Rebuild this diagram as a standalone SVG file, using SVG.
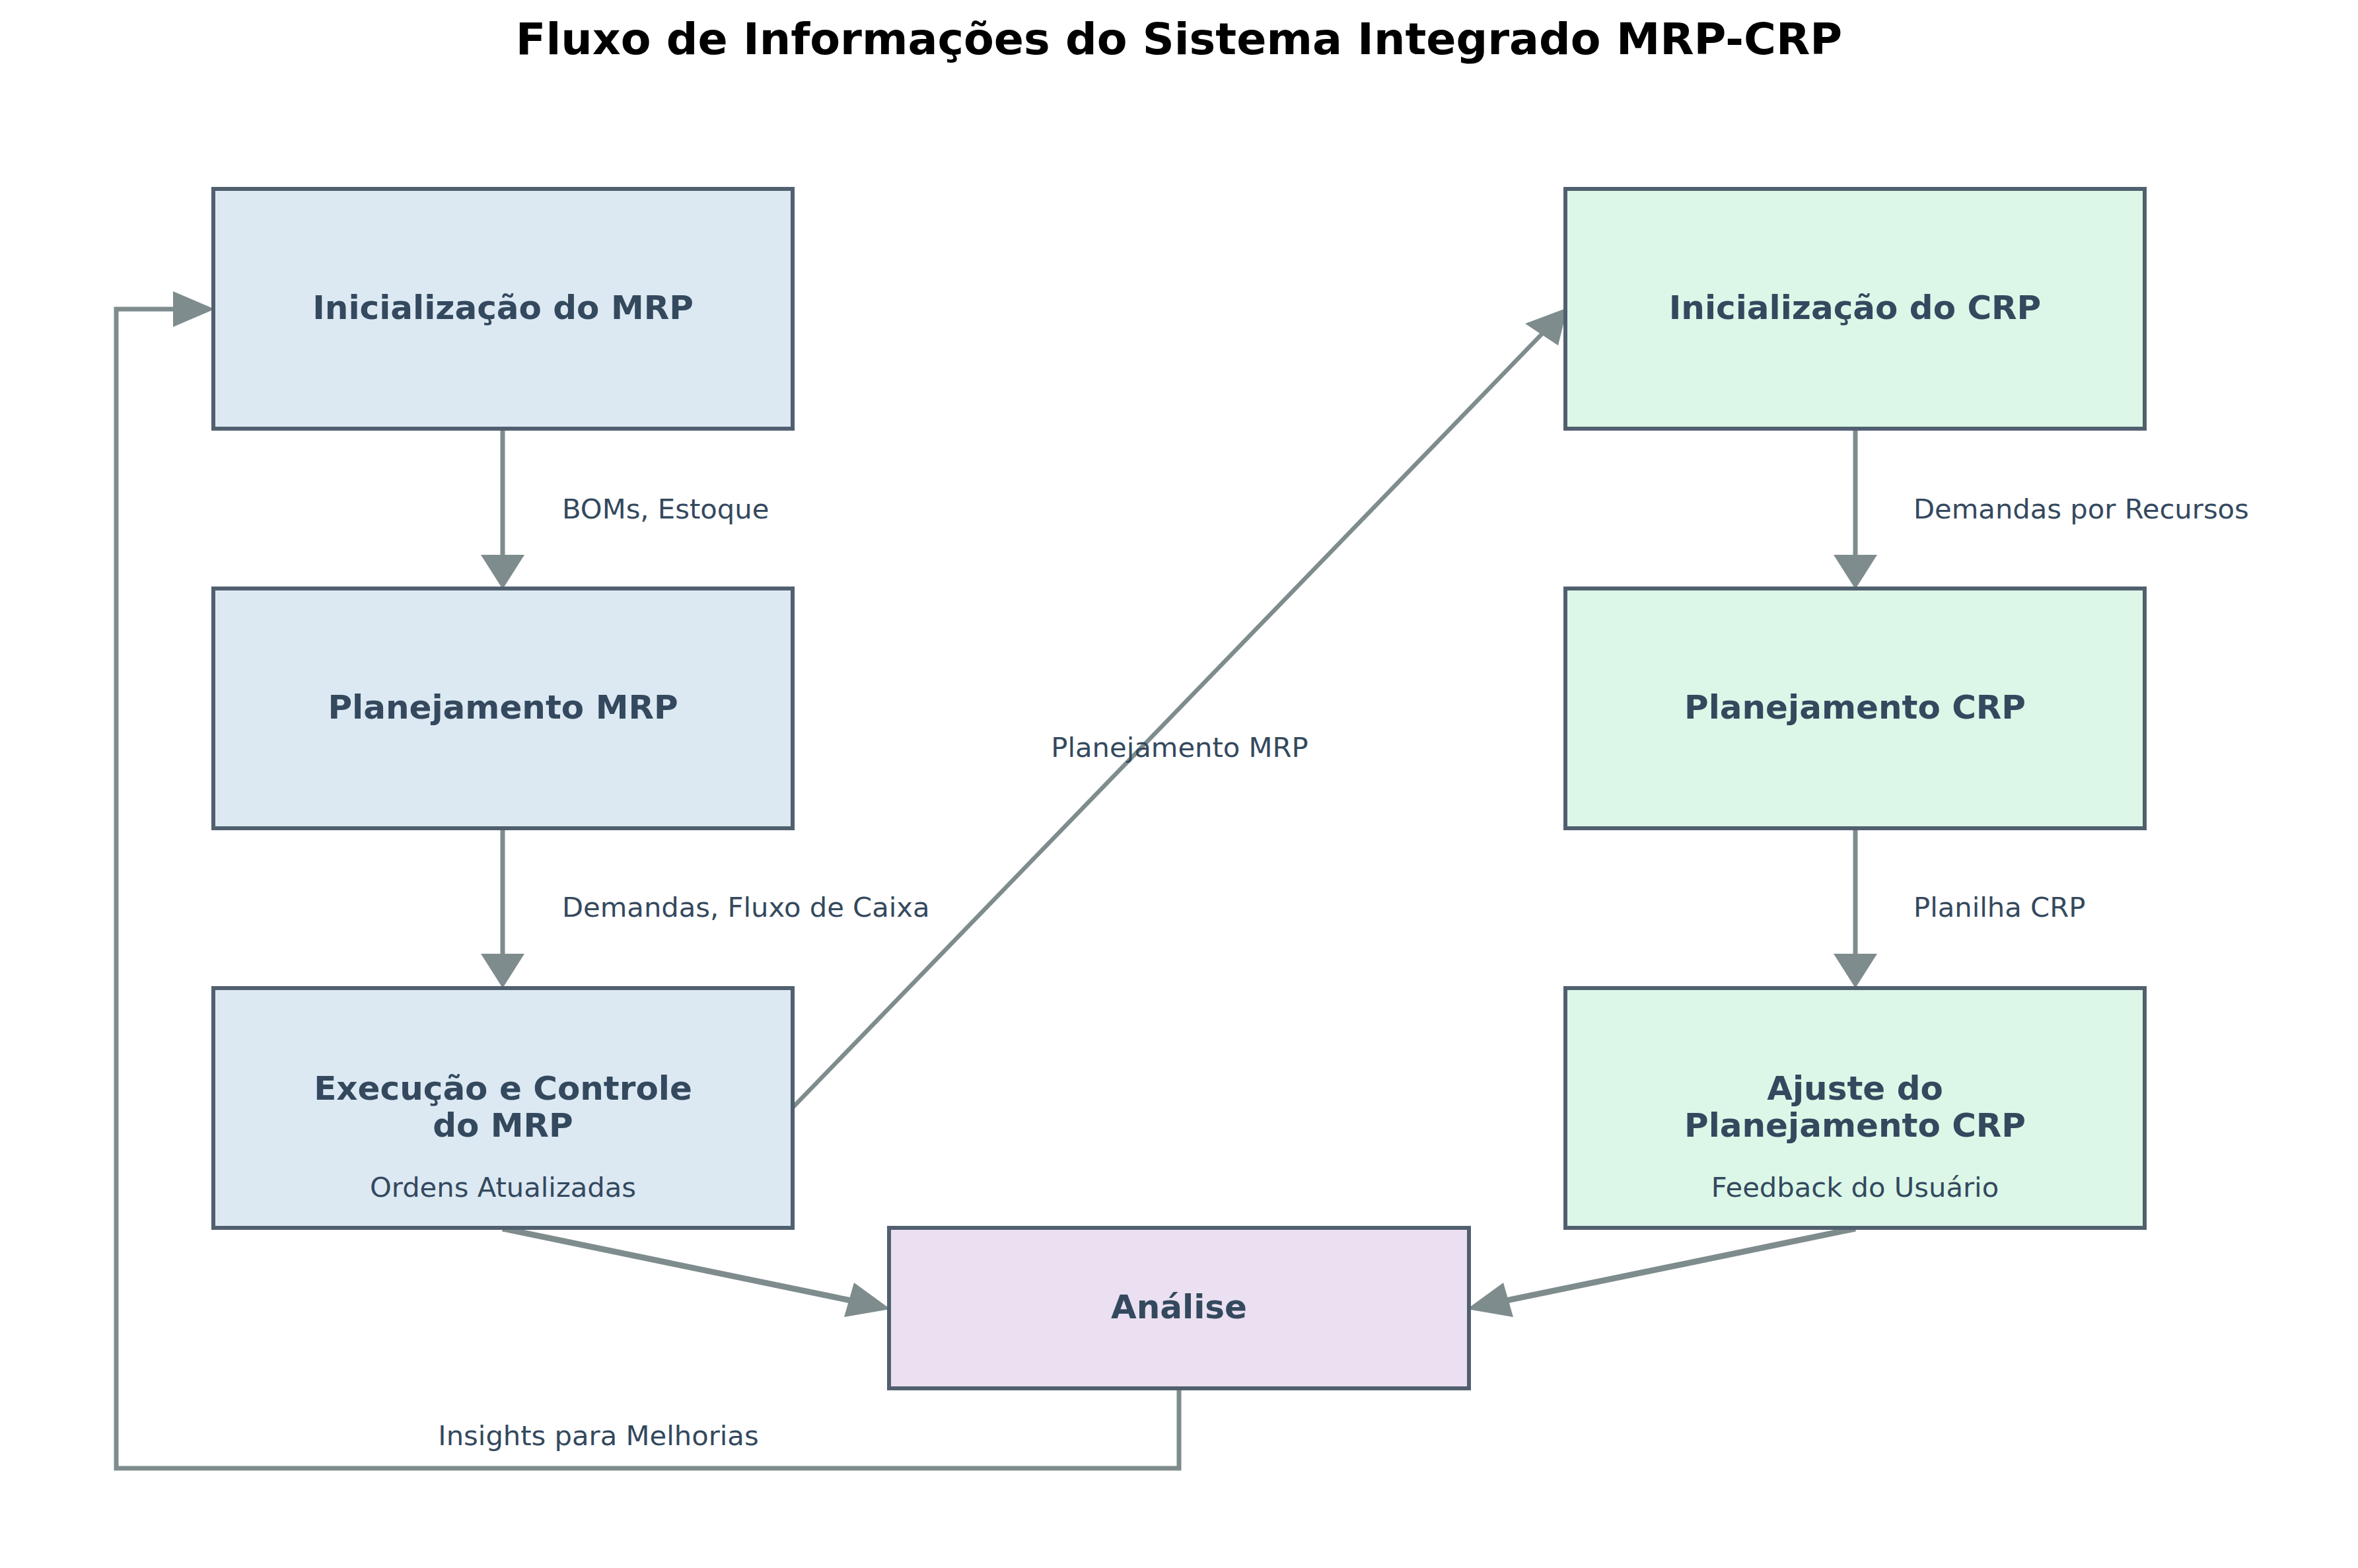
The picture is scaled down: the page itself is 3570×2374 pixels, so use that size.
<svg xmlns="http://www.w3.org/2000/svg" width="3570" height="2374" viewBox="0 0 3570 2374">
<style>
text{font-family:"DejaVu Sans","Liberation Sans",sans-serif;fill:#34495e}
.title{font-size:66.7px;font-weight:bold;fill:#000000}
.lbl{font-size:50px;font-weight:bold}
.el{font-size:41.7px}
.box{stroke:#51606f;stroke-width:6}
.mrp{fill:#dce9f3}
.crp{fill:#dcf7e8}
.ana{fill:#ebe0f1}
.ln{fill:none;stroke:#7f8c8d}
.hd{fill:#7f8c8d;stroke:none}
</style>
<rect width="3570" height="2374" fill="#ffffff"/>
<text class="title" x="1785" y="82" text-anchor="middle">Fluxo de Informações do Sistema Integrado MRP-CRP</text>

<g id="connectors">
  <line class="ln" x1="761" y1="648" x2="761" y2="842" stroke-width="7"/>
  <polygon class="hd" points="728,840 794,840 761,892"/>
  <line class="ln" x1="761" y1="1254" x2="761" y2="1446" stroke-width="7"/>
  <polygon class="hd" points="728,1444 794,1444 761,1496"/>
  <line class="ln" x1="2809" y1="648" x2="2809" y2="842" stroke-width="7"/>
  <polygon class="hd" points="2776,840 2842,840 2809,892"/>
  <line class="ln" x1="2809" y1="1254" x2="2809" y2="1446" stroke-width="7"/>
  <polygon class="hd" points="2776,1444 2842,1444 2809,1496"/>
  <line class="ln" x1="1200" y1="1677" x2="2336" y2="504" stroke-width="6.5"/>
  <polygon class="hd" points="2373,466 2359,523 2309,490"/>
  <line class="ln" x1="761" y1="1860" x2="1288" y2="1969" stroke-width="9"/>
  <polygon class="hd" points="1348,1982 1293,1942 1278,1994"/>
  <line class="ln" x1="2809" y1="1860" x2="2281" y2="1969" stroke-width="9"/>
  <polygon class="hd" points="2221,1982 2276,1942 2291,1994"/>
  <polyline class="ln" points="1785,2102 1785,2223 176,2223 176,468 264,468" stroke-width="7"/>
  <polygon class="hd" points="325,468 262,441 262,495"/>
  <text class="el" x="851" y="785">BOMs, Estoque</text>
  <text class="el" x="851" y="1388">Demandas, Fluxo de Caixa</text>
  <text class="el" x="2897" y="785">Demandas por Recursos</text>
  <text class="el" x="2897" y="1388">Planilha CRP</text>
  <text class="el" x="1786" y="1146" text-anchor="middle">Planejamento MRP</text>
  <text class="el" x="906" y="2188" text-anchor="middle">Insights para Melhorias</text>
</g>

<g id="mrp_init">
  <rect class="box mrp" x="323" y="286" width="877" height="363"/>
  <text class="lbl" x="761.5" y="483" text-anchor="middle">Inicialização do MRP</text>
</g>
<g id="mrp_plan">
  <rect class="box mrp" x="323" y="891" width="877" height="363"/>
  <text class="lbl" x="761.5" y="1088" text-anchor="middle">Planejamento MRP</text>
</g>
<g id="mrp_exec">
  <rect class="box mrp" x="323" y="1496" width="877" height="363"/>
  <text class="lbl" x="761.5" y="1665" text-anchor="middle">Execução e Controle</text>
  <text class="lbl" x="761.5" y="1721" text-anchor="middle">do MRP</text>
  <text class="el" x="761.5" y="1812" text-anchor="middle">Ordens Atualizadas</text>
</g>
<g id="crp_init">
  <rect class="box crp" x="2370" y="286" width="877" height="363"/>
  <text class="lbl" x="2808.5" y="483" text-anchor="middle">Inicialização do CRP</text>
</g>
<g id="crp_plan">
  <rect class="box crp" x="2370" y="891" width="877" height="363"/>
  <text class="lbl" x="2808.5" y="1088" text-anchor="middle">Planejamento CRP</text>
</g>
<g id="crp_adjust">
  <rect class="box crp" x="2370" y="1496" width="877" height="363"/>
  <text class="lbl" x="2808.5" y="1665" text-anchor="middle">Ajuste do</text>
  <text class="lbl" x="2808.5" y="1721" text-anchor="middle">Planejamento CRP</text>
  <text class="el" x="2808.5" y="1812" text-anchor="middle">Feedback do Usuário</text>
</g>
<g id="analise">
  <rect class="box ana" x="1346" y="1859" width="878" height="243"/>
  <text class="lbl" x="1785" y="1996" text-anchor="middle">Análise</text>
</g>
</svg>
